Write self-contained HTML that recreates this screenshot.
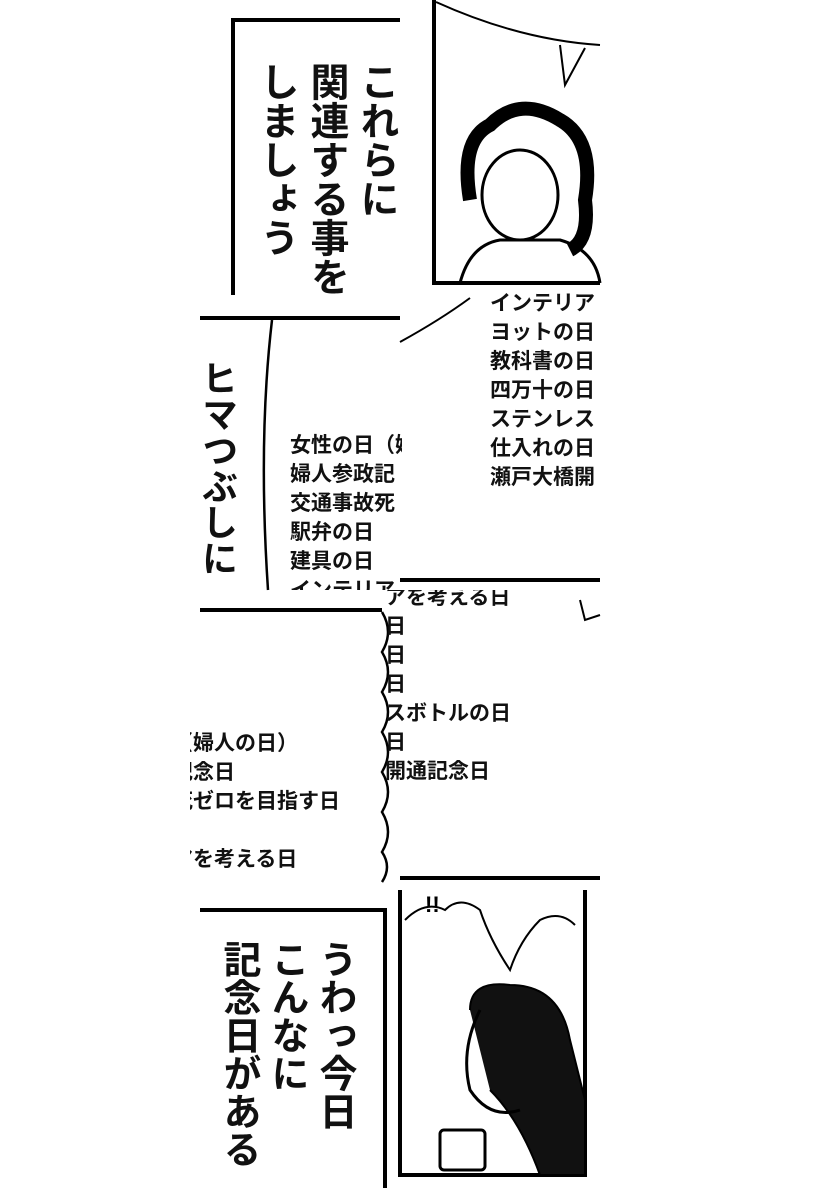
<!DOCTYPE html>
<html><head><meta charset="utf-8"><style>
body{margin:0;width:820px;height:1200px;background:#fff;position:relative;overflow:hidden;font-family:"Liberation Sans","Noto Sans CJK JP",sans-serif;}
.a{position:absolute}
.v{writing-mode:vertical-rl;font-weight:600;color:#111;font-family:"Noto Sans CJK JP",sans-serif;}
.clip{position:absolute;overflow:hidden}
.list{font-weight:bold;font-size:21px;line-height:29px;color:#111;white-space:nowrap;font-family:"Noto Sans CJK JP",sans-serif;}
</style></head><body>
<svg class="a" style="left:0;top:0" width="820" height="1200">
<g stroke="#000" fill="none">
<path d="M400 20 H233 V295" stroke-width="4"/>
<path d="M434 0 V283 H600" stroke-width="4"/>
<path d="M436 2 Q520 40 600 45" stroke-width="2"/>
<path d="M560 45 L565 85 L585 48" stroke-width="2"/>
<path d="M470 200 Q460 140 490 125 Q520 95 560 120 Q595 140 585 200 Q590 240 570 250" stroke-width="14"/>
<ellipse cx="520" cy="195" rx="38" ry="45" stroke-width="3"/>
<path d="M460 283 Q470 245 500 240 L560 240 Q595 250 600 283" stroke-width="3"/>
<path d="M200 318 H400" stroke-width="4"/>
<path d="M272 320 Q258 440 268 590" stroke-width="2.5"/>
<path d="M400 342 Q440 320 470 298" stroke-width="2"/>
<path d="M400 580 H600" stroke-width="4"/>
<path d="M200 610 H382" stroke-width="4"/>
<path d="M382 612 q12 20 0 40 q12 20 0 40 q12 20 0 40 q12 20 0 40 q12 20 0 40 q12 20 0 40 q10 15 0 30" stroke-width="2.5"/>
<path d="M580 600 l5 20 l15 -5" stroke-width="2"/>
<path d="M400 878 H600" stroke-width="4"/>
<path d="M200 910 H385 V1188" stroke-width="4"/>
<path d="M400 890 V1175 H585 V890" stroke-width="4"/>
<path d="M405 920 q20 -20 40 -10 q15 -15 35 0 q10 30 30 60 q10 -30 30 -50 q20 -10 35 5" stroke-width="2"/>
<path d="M470 1010 Q470 980 510 985 Q560 985 570 1040 L585 1100 L585 1175 L540 1175 Q520 1120 490 1090" fill="#111" stroke-width="2"/>
<path d="M480 1010 Q460 1050 470 1090 Q490 1120 520 1110" stroke-width="3"/>
<rect x="440" y="1130" width="45" height="40" rx="4" stroke-width="3" fill="#fff"/>
</g>
<text x="425" y="912" font-size="22" font-weight="bold">!!</text>
</svg>

<div class="a v" style="left:255px;top:62px;font-size:39px;line-height:50px;">これらに<br>関連する事を<br>しましょう</div>
<div class="a v" style="left:200px;top:360px;font-size:36px;line-height:40px;">ヒマつぶしに</div>
<div class="a v" style="left:218px;top:940px;font-size:38px;line-height:48px;">うわっ今日<br>こんなに<br>記念日がある</div>

<div class="clip" style="left:490px;top:288px;width:110px;height:290px"><div class="list">インテリア<br>ヨットの日<br>教科書の日<br>四万十の日<br>ステンレス<br>仕入れの日<br>瀬戸大橋開</div></div>
<div class="clip" style="left:290px;top:430px;width:112px;height:160px"><div class="list">女性の日（婦<br>婦人参政記<br>交通事故死<br>駅弁の日<br>建具の日<br>インテリア</div></div>
<div class="clip" style="left:385px;top:590px;width:215px;height:192px"><div class="list" style="margin-left:-84px;margin-top:-8px">インテリアを考える日<br>ヨットの日<br>教科書の日<br>四万十の日<br>ステンレスボトルの日<br>仕入れの日<br>瀬戸大橋開通記念日</div></div>
<div class="clip" style="left:190px;top:728px;width:190px;height:160px"><div class="list" style="margin-left:-102px">女性の日（婦人の日）<br>婦人参政記念日<br>交通事故死ゼロを目指す日<br><br>インテリアを考える日</div></div>
</body></html>
